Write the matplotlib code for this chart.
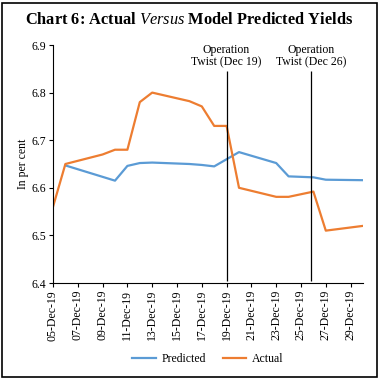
import matplotlib
matplotlib.use('Agg')
import matplotlib.pyplot as plt
import matplotlib.dates as mdates
from matplotlib.patches import Rectangle
import numpy as np
import pandas as pd

dates = pd.to_datetime(['2019-12-05', '2019-12-06', '2019-12-09', '2019-12-10', '2019-12-11',
                        '2019-12-12', '2019-12-13', '2019-12-16', '2019-12-17', '2019-12-18',
                        '2019-12-19', '2019-12-20', '2019-12-23', '2019-12-24', '2019-12-26',
                        '2019-12-27', '2019-12-30'])
predicted = [np.nan, 6.647, 6.623, 6.615, 6.646, 6.652, 6.653, 6.650, 6.648, 6.645,
             6.660, 6.675, 6.652, 6.624, 6.622, 6.617, 6.616]
actual = [6.56, 6.65, 6.67, 6.68, 6.68, 6.78, 6.80, 6.782, 6.771, 6.73,
          6.73, 6.60, 6.581, 6.581, 6.592, 6.51, 6.52]
events = pd.to_datetime(['2019-12-19 00:00', '2019-12-25 19:00'])
event_labels = ['Operation\nTwist (Dec 19)', 'Operation\nTwist (Dec 26)']

plt.rcParams['font.family'] = 'Liberation Serif'
plt.rcParams['mathtext.fontset'] = 'custom'
plt.rcParams['mathtext.it'] = 'Liberation Serif:italic'
plt.rcParams['mathtext.rm'] = 'Liberation Serif'

fig = plt.figure(figsize=(3.79, 3.80), dpi=100)
ax = fig.add_axes([53 / 379, 1 - 283 / 380, 310 / 379, 238 / 380])

ax.plot(dates, predicted, color='#5B9BD5', lw=1.6, label='Predicted')
ax.plot(dates, actual, color='#ED7D31', lw=1.6, label='Actual')

for d, lab in zip(events, event_labels):
    ax.vlines(d, 6.405, 6.845, color='black', lw=0.9)
    ax.text(d, 6.852, lab, ha='center', va='bottom', fontsize=8.5, linespacing=1.0)

ax.set_ylim(6.4, 6.9)
ax.set_yticks([6.4, 6.5, 6.6, 6.7, 6.8, 6.9])
ax.set_xlim(pd.Timestamp('2019-12-05'), pd.Timestamp('2019-12-30'))
ax.set_xticks(pd.date_range('2019-12-05', '2019-12-29', freq='2D'))
ax.xaxis.set_major_formatter(mdates.DateFormatter('%d-%b-%y'))
plt.setp(ax.get_xticklabels(), rotation=90)
ax.tick_params(labelsize=8.5, length=3, width=0.8, pad=2)
ax.spines['top'].set_visible(False)
ax.spines['right'].set_visible(False)
ax.set_ylabel('In per cent', fontsize=8.5, labelpad=2)

fig.text(0.5, 1 - 20 / 380, 'Chart 6: Actual $\\it{Versus}$ Model Predicted Yields',
         ha='center', va='center', fontsize=11.8, fontweight='bold')
ax.legend(loc='upper center', bbox_to_anchor=(0.5, -0.25), ncol=2, frameon=False,
          fontsize=8.5, handlelength=2.0, handletextpad=0.5, columnspacing=1.4)

fig.patches.append(Rectangle((0.006, 0.008), 0.988, 0.984, transform=fig.transFigure,
                             fill=False, edgecolor='black', lw=1.2))

fig.savefig('out.png', dpi=100)
